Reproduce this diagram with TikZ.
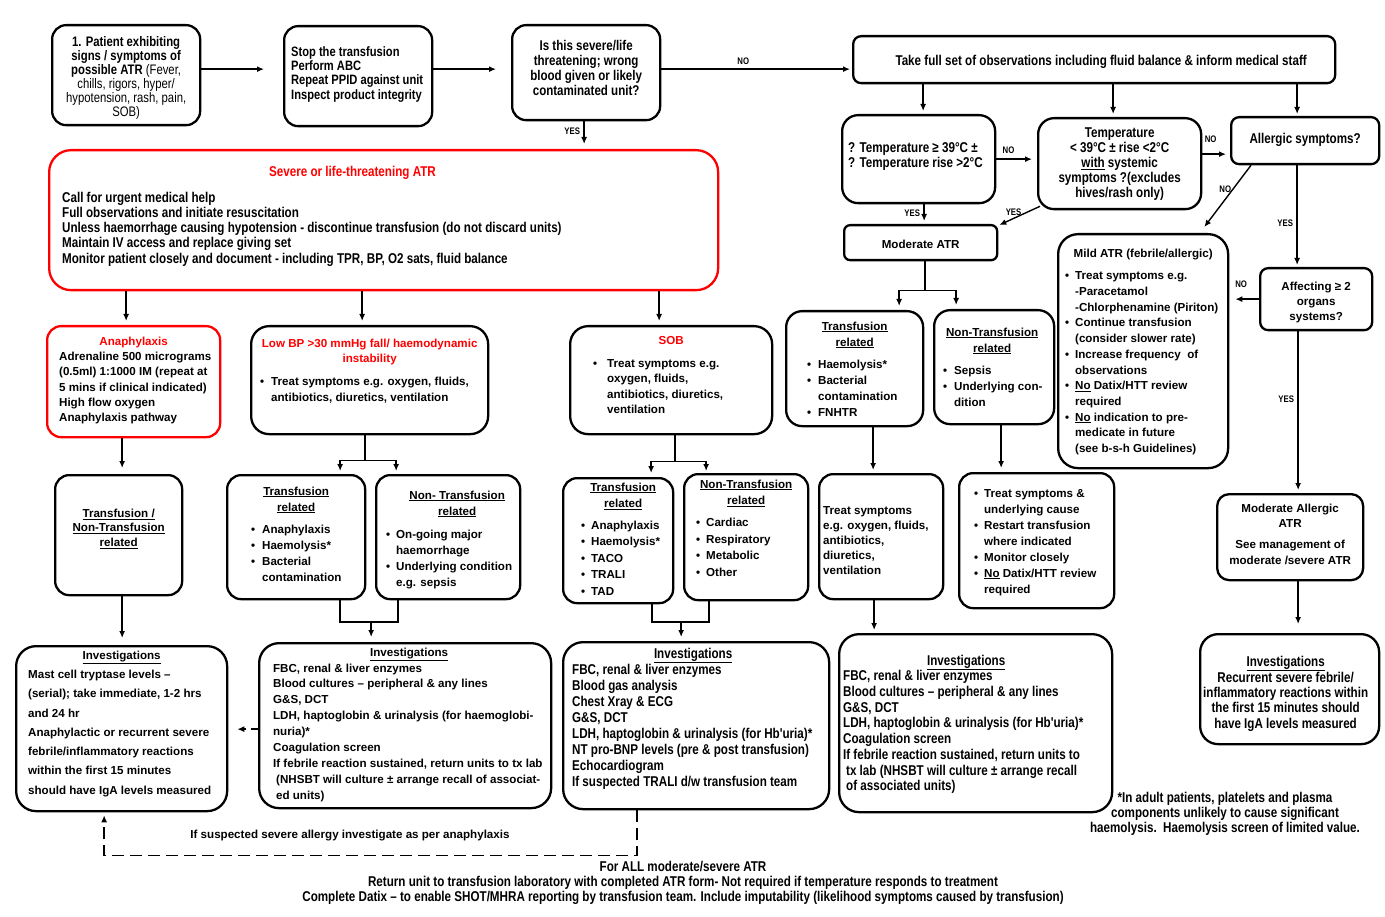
\documentclass[tikz,border=0pt]{standalone}
\usepackage{fontspec}
\setmainfont{Liberation Sans}
\newfontfamily\nf[FakeStretch=0.82]{Liberation Sans}
\usetikzlibrary{arrows.meta}
\definecolor{atrred}{RGB}{255,0,0}

\newcommand\rf[2]{\fontsize{#1}{#2}\selectfont\bfseries}
\newcommand\nrf[2]{\nf\fontsize{#1}{#2}\selectfont\bfseries}
% box text: width, height, first baseline, left pad, content
\newcommand\inbox[5]{%
  \begin{minipage}[c][#2pt][t]{#1pt}%
  \setlength\parskip{0pt}\setlength\parindent{0pt}%
  \leftskip=#4pt\rightskip=0pt plus 1fil\relax
  \null\vspace{\dimexpr#3pt-\baselineskip\relax}%
  #5%
  \end{minipage}}
\newcommand\ctr[1]{{\centering #1\par}}
\newcommand\ctrL[2]{{\centering\leftskip=#1pt plus 1fil\relax #2\par}}
\newcommand\ctrR[2]{{\centering\rightskip=#1pt plus 1fil\relax #2\par}}
\newcommand\bul[1]{\par\noindent\hangindent=#1pt\hangafter=1\makebox[#1pt][l]{\textbullet}\ignorespaces}

\tikzset{
  rbox/.style={draw, line width=2.3pt, rounded corners=14pt, inner sep=0pt, anchor=north west},
  redbox/.style={rbox, draw=atrred},
  arr/.style={line width=1.4pt, -{Latex[length=7pt,width=6pt]}},
  conn/.style={line width=1.4pt},
  lbl/.style={font={\nrf{9.5}{10}}, inner sep=1.5pt},
}

\begin{document}
\begin{tikzpicture}[x=1pt, y=-1pt]
\useasboundingbox (0,0) rectangle (1385,917);

% top row
\node[rbox, font={\nrf{13.8}{14}}] (b1) at (51,24)
  {\inbox{148}{100}{21}{0}{\ctr{1. Patient exhibiting\\ signs / symptoms of\\ possible ATR {\mdseries (Fever,\\ chills, rigors, hyper/\\ hypotension, rash, pain,\\ SOB)}}}};
\node[rbox, font={\nrf{13.6}{14.3}}] (b2) at (283,25)
  {\inbox{148}{100}{30}{7}{Stop the transfusion\\ Perform ABC\\ Repeat PPID against unit\\ Inspect product integrity}};
\node[rbox, font={\nrf{14.1}{15}}] (b3) at (511,24)
  {\inbox{148}{95}{25}{0}{\ctr{Is this severe/life\\ threatening; wrong\\ blood given or likely\\ contaminated unit?}}};
\node[rbox, rounded corners=8pt, font={\nrf{14.2}{15}}] (b4) at (852,35)
  {\inbox{482}{47}{29}{0}{\ctrL{14}{Take full set of observations including fluid balance \& inform medical staff}}};

% severe branch
\node[redbox, rounded corners=22pt, font={\nrf{14.2}{15.25}}] (severe) at (48,149)
  {\inbox{669}{140}{26}{13}{{\leavevmode\color{atrred}\hspace*{207pt}Severe or life-threatening ATR\par}\vspace{10.75pt}%
  Call for urgent medical help\\ Full observations and initiate resuscitation\\ Unless haemorrhage causing hypotension - discontinue transfusion (do not discard units)\\ Maintain IV access and replace giving set\\ Monitor patient closely and document - including TPR, BP, O2 sats, fluid balance}};
\node[redbox, font={\rf{11.6}{15.3}}] (anaph) at (46,325)
  {\inbox{173}{111}{19}{12}{\ctr{\leavevmode\color{atrred}Anaphylaxis}Adrenaline 500 micrograms\\ (0.5ml) 1:1000 IM (repeat at\\ 5 mins if clinical indicated)\\ High flow oxygen\\ Anaphylaxis pathway}};
\node[rbox, rounded corners=18pt, font={\rf{11.6}{15.5}}] (lowbp) at (250,325)
  {\inbox{237}{108}{21}{9}{\ctr{\leavevmode\color{atrred}Low BP >30 mmHg fall/ haemodynamic\\ instability}\vspace{7.5pt}\bul{11}Treat symptoms e.g. oxygen, fluids,\\ antibiotics, diuretics, ventilation}};
\node[rbox, rounded corners=18pt, font={\rf{11.6}{15.5}}] (sob) at (569,325)
  {\inbox{202}{108}{18}{23}{\ctr{\leavevmode\color{atrred}SOB}\vspace{7.5pt}\bul{14}Treat symptoms e.g.\\ oxygen, fluids,\\ antibiotics, diuretics,\\ ventilation}};

\node[rbox, font={\rf{11.6}{14.8}}] (tnl) at (54,474)
  {\inbox{127}{120}{42}{0}{\ctr{\underline{Transfusion /}\\ \underline{Non-Transfusion}\\ \underline{related}}}};
\node[rbox, font={\rf{11.6}{16}}] (lbT) at (226,474)
  {\inbox{138}{124}{20}{24}{\ctr{\underline{Transfusion}\\ \underline{related}}\vspace{6pt}\bul{11}Anaphylaxis\bul{11}Haemolysis*\bul{11}Bacterial\\ contamination}};
\node[rbox, font={\rf{11.6}{16}}] (lbN) at (375,474)
  {\inbox{144}{124}{24}{10}{\ctrL{18}{\underline{Non- Transfusion}\\ \underline{related}}\vspace{7pt}\bul{10}On-going major\\ haemorrhage\bul{10}Underlying condition\\ e.g. sepsis}};
\node[rbox, font={\rf{11.6}{16.5}}] (sbT) at (562,477)
  {\inbox{110}{125}{13}{18}{\ctrL{10}{\underline{Transfusion}\\ \underline{related}}\vspace{5pt}\bul{10}Anaphylaxis\bul{10}Haemolysis*\bul{10}TACO\bul{10}TRALI\bul{10}TAD}};
\node[rbox, font={\rf{11.6}{16.8}}] (sbN) at (683,473)
  {\inbox{124}{126}{14}{12}{\ctr{\underline{Non-Transfusion}\\ \underline{related}}\vspace{4.5pt}\bul{10}Cardiac\bul{10}Respiratory\bul{10}Metabolic\bul{10}Other}};

% moderate / mild branch
\node[rbox, rounded corners=16pt, font={\nrf{14.2}{15.2}}] (tmp1) at (841,114)
  {\inbox{153}{88}{37}{6}{? Temperature ≥ 39°C ±\\ ? Temperature rise >2°C}};
\node[rbox, rounded corners=16pt, font={\nrf{14.2}{15.2}}] (tmp2) at (1037,117)
  {\inbox{163}{91}{19}{0}{\ctr{Temperature\\ < 39°C ± rise <2°C\\ \underline{with} systemic\\ symptoms ?(excludes\\ hives/rash only)}}};
\node[rbox, rounded corners=8pt, font={\nrf{14.2}{15}}] (allg) at (1230,116)
  {\inbox{148}{47}{26}{0}{\ctr{Allergic symptoms?}}};
\node[rbox, rounded corners=6pt, font={\rf{11.6}{14}}] (modATR) at (843,224)
  {\inbox{153}{35}{23}{0}{\ctr{Moderate ATR}}};
\node[rbox, rounded corners=16pt, font={\rf{11.6}{16}}] (mdT) at (785,310)
  {\inbox{137}{115}{19}{21}{\ctr{\underline{Transfusion}\\ \underline{related}}\vspace{6pt}\bul{11}Haemolysis*\bul{11}Bacterial\\ contamination\bul{11}FNHTR}};
\node[rbox, rounded corners=16pt, font={\rf{11.6}{16}}] (mdN) at (933,309)
  {\inbox{120}{114}{26}{9}{\ctrR{4}{\underline{Non-Transfusion}\\ \underline{related}}\vspace{6pt}\bul{11}Sepsis\bul{11}Underlying con-\\ dition}};
\node[rbox, rounded corners=20pt, font={\rf{11.6}{15.7}}] (mild) at (1057,233)
  {\inbox{170}{234}{23}{7}{\ctr{Mild ATR (febrile/allergic)}\vspace{7pt}%
  \bul{10}Treat symptoms e.g.\\ -Paracetamol\\ -Chlorphenamine (Piriton)%
  \bul{10}Continue transfusion\\ (consider slower rate)%
  \bul{10}Increase frequency\ \ of\\ observations%
  \bul{10}\underline{No} Datix/HTT review\\ required%
  \bul{10}\underline{No} indication to pre-\\ medicate in future\\ (see b-s-h Guidelines)}};
\node[rbox, rounded corners=8pt, font={\rf{11.6}{15}}] (aff) at (1259,267)
  {\inbox{112}{62}{22}{0}{\ctr{Affecting ≥ 2\\ organs\\ systems?}}};
\node[rbox, rounded corners=12pt, font={\rf{11.6}{15.5}}] (modAl) at (1216,493)
  {\inbox{146}{86}{18}{0}{\ctr{Moderate Allergic\\ ATR}\vspace{5.5pt}\ctr{See management of\\ moderate /severe ATR}}};
\node[rbox, font={\rf{11.6}{15.2}}] (trt) at (818,473)
  {\inbox{124}{125}{40}{4}{Treat symptoms\\ e.g. oxygen, fluids,\\ antibiotics,\\ diuretics,\\ ventilation}};
\node[rbox, font={\rf{11.6}{16}}] (trt2) at (958,472)
  {\inbox{155}{135}{24}{15}{\bul{10}Treat symptoms \&\\ underlying cause\bul{10}Restart transfusion\\ where indicated\bul{10}Monitor closely\bul{10}\underline{No} Datix/HTT review\\ required}};

% investigations
\node[rbox, rounded corners=20pt, font={\rf{11.6}{19.3}}] (invL) at (15,645)
  {\inbox{211}{165}{13}{12}{\ctr{\underline{Investigations}}Mast cell tryptase levels –\\ (serial); take immediate, 1-2 hrs\\ and 24 hr\\ Anaphylactic or recurrent severe\\ febrile/inflammatory reactions\\ within the first 15 minutes\\ should have IgA levels measured}};
\node[rbox, rounded corners=20pt, font={\rf{11.6}{15.9}}] (invB) at (258,642)
  {\inbox{292}{165}{13}{14}{\ctrL{8}{\underline{Investigations}}FBC, renal \& liver enzymes\\ Blood cultures – peripheral \& any lines\\ G\&S, DCT\\ LDH, haptoglobin \& urinalysis (for haemoglobi-\\ nuria)*\\ Coagulation screen\\ If febrile reaction sustained, return units to tx lab\\ \hspace*{3pt}(NHSBT will culture ± arrange recall of associat-\\ \hspace*{3pt}ed units)}};
\node[rbox, rounded corners=20pt, font={\nrf{14.2}{16}}] (invS) at (562,641)
  {\inbox{266}{167}{16}{9}{\ctrR{6}{\underline{Investigations}}FBC, renal \& liver enzymes\\ Blood gas analysis\\ Chest Xray \& ECG\\ G\&S, DCT\\ LDH, haptoglobin \& urinalysis (for Hb'uria)*\\ NT pro-BNP levels (pre \& post transfusion)\\ Echocardiogram\\ If suspected TRALI d/w transfusion team}};
\node[rbox, rounded corners=20pt, font={\nrf{14.2}{15.7}}] (invM) at (838,633)
  {\inbox{273}{178}{31}{4}{\ctrR{19}{\underline{Investigations}}FBC, renal \& liver enzymes\\ Blood cultures – peripheral \& any lines\\ G\&S, DCT\\ LDH, haptoglobin \& urinalysis (for Hb'uria)*\\ Coagulation screen\\ If febrile reaction sustained, return units to\\ \hspace*{3pt}tx lab (NHSBT will culture ± arrange recall\\ \hspace*{3pt}of associated units)}};
\node[rbox, rounded corners=18pt, font={\nrf{14.2}{15.2}}] (invR) at (1199,633)
  {\inbox{179}{110}{32}{0}{\ctrR{8}{\underline{Investigations}\\ Recurrent severe febrile/\\ inflammatory reactions within\\ the first 15 minutes should\\ have IgA levels measured}}};

% loose text
\node[font={\nrf{14.2}{15}}, align=center] (fnote) at (1225,814)
  {*In adult patients, platelets and plasma\\ components unlikely to cause significant\\ haemolysis.\ \ Haemolysis screen of limited value.};
\node[font={\rf{11.6}{14}}] (anote) at (350,836) {If suspected severe allergy investigate as per anaphylaxis};
\node[font={\nrf{14.2}{15.3}}, align=center] (fall) at (683,883)
  {For ALL moderate/severe ATR\\ Return unit to transfusion laboratory with completed ATR form- Not required if temperature responds to treatment\\ Complete Datix – to enable SHOT/MHRA reporting by transfusion team. Include imputability (likelihood symptoms caused by transfusion)};

% connectors, top row
\draw[arr, shorten >=19pt] ([yshift=6pt]b1.east) -- ([yshift=6pt]b1.east -| b2.west);
\draw[arr, shorten >=15pt] ([yshift=7pt]b2.east) -- ([yshift=7pt]b2.east -| b3.west);
\draw[arr, shorten >=2pt] ([yshift=3.5pt]b3.east) -- node[lbl, above=2pt, pos=0.43] {NO} ([yshift=3.5pt]b3.east -| b4.west);
\draw[arr, shorten >=5pt] ([xshift=-2pt]b3.south) -- node[lbl, left=2pt, pos=0.35] {YES} ([xshift=-2pt]b3.south |- severe.north);

% severe branch
\draw[arr, shorten >=4pt] ([xshift=-7.5pt]anaph.north |- severe.south) -- ([xshift=-7.5pt]anaph.north);
\draw[arr, shorten >=4pt] ([xshift=-7.5pt]lowbp.north |- severe.south) -- ([xshift=-7.5pt]lowbp.north);
\draw[arr, shorten >=4pt] ([xshift=-12pt]sob.north |- severe.south) -- ([xshift=-12pt]sob.north);
\draw[arr, shorten >=6pt] ([xshift=-11.5pt]anaph.south) -- ([xshift=-11.5pt]anaph.south |- tnl.north);
\draw[arr, shorten >=7pt] ([xshift=3.5pt]tnl.south) -- ([xshift=3.5pt]tnl.south |- invL.north);

\coordinate (lbs) at ([xshift=-4.5pt, yshift=-25pt]lowbp.south);
\draw[conn] ([xshift=-4.5pt]lowbp.south) -- (lbs);
\draw[arr, shorten >=3pt] (lbs) -| ([xshift=44pt]lbT.north);
\draw[arr, shorten >=3pt] (lbs) -| ([xshift=-52pt]lbN.north);
\coordinate (lbm) at ([xshift=-34pt, yshift=20pt]invB.north);
\draw[conn] ([xshift=44pt]lbT.south) |- (lbm) -| ([xshift=-50pt]lbN.south);
\draw[arr, shorten >=5pt] (lbm) -- ([xshift=-34pt]invB.north);

\coordinate (sbs) at ([xshift=4pt, yshift=-26pt]sob.south);
\draw[conn] ([xshift=4pt]sob.south) -- (sbs);
\draw[arr, shorten >=4pt] (sbs) -| ([xshift=33pt]sbT.north);
\draw[arr, shorten >=2pt] (sbs) -| ([xshift=-40pt]sbN.north);
\coordinate (sbm) at ([xshift=-15pt, yshift=19pt]invS.north);
\draw[conn] ([xshift=34pt]sbT.south) |- (sbm) -| ([xshift=-37pt]sbN.south);
\draw[arr, shorten >=4pt] (sbm) -- ([xshift=-15pt]invS.north);

% moderate / mild branch
\draw[arr, shorten >=3pt] ([xshift=4.5pt]tmp1.north |- b4.south) -- ([xshift=4.5pt]tmp1.north);
\draw[arr, shorten >=3pt] ([xshift=-6.5pt]tmp2.north |- b4.south) -- ([xshift=-6.5pt]tmp2.north);
\draw[arr, shorten >=2pt] ([xshift=-8pt]allg.north |- b4.south) -- ([xshift=-8pt]allg.north);
\draw[arr, shorten >=5pt] (tmp1.east) -- node[lbl, above=3pt, pos=0.3] {NO} (tmp1.east -| tmp2.west);
\draw[arr, shorten >=4pt] ([yshift=9.5pt]tmp2.east) -- node[lbl, above=9pt, pos=0.3] {NO} ([yshift=9.5pt]tmp2.east -| allg.west);
\draw[arr, shorten >=3pt] ([xshift=5.5pt]tmp1.south) -- node[lbl, left=2pt, pos=0.45] {YES} ([xshift=5.5pt]tmp1.south |- modATR.north);
\draw[arr] ([xshift=3pt, yshift=4pt]tmp2.south west) -- node[lbl, above=1pt, pos=0.65] {YES} ([xshift=1pt, yshift=-1pt]modATR.north east);
\draw[arr] ([xshift=21pt]allg.south west) -- node[lbl, left=0pt, pos=0.38] {NO} ([xshift=-25pt, yshift=6pt]mild.north east);
\draw[arr, shorten >=2pt] ([xshift=-8pt]allg.south) -- node[lbl, left=2pt, pos=0.57] {YES} ([xshift=-8pt]allg.south |- aff.north);
\draw[arr, shorten >=6pt] (aff.west) -- node[lbl, above=9pt, pos=0.6] {NO} (aff.west -| mild.east);
\draw[arr, shorten >=3pt] ([xshift=-18pt]aff.south) -- node[lbl, left=2pt, pos=0.42] {YES} ([xshift=-18pt]aff.south |- modAl.north);
\draw[arr, shorten >=9pt] ([xshift=8pt]modAl.south) -- ([xshift=8pt]modAl.south |- invR.north);

\coordinate (mas) at ([xshift=4.5pt, yshift=-29pt]modATR.south);
\draw[conn] ([xshift=4.5pt]modATR.south) -- (mas);
\draw[arr, shorten >=4pt] (mas) -| ([xshift=44.5pt]mdT.north);
\draw[arr, shorten >=4pt] (mas) -| ([xshift=-38pt]mdN.north);
\draw[arr, shorten >=3pt] ([xshift=18.5pt]mdT.south) -- ([xshift=18.5pt]mdT.south |- trt.north);
\draw[arr, shorten >=4pt] ([xshift=7pt]mdN.south) -- ([xshift=7pt]mdN.south |- trt2.north);
\draw[arr, shorten >=3pt] ([xshift=-7pt]trt.south) -- ([xshift=-7pt]trt.south |- invM.north);

% dashed links back to the anaphylaxis investigations
\draw[arr, dash pattern=on 7pt off 5pt, shorten >=9pt] ([yshift=-3.5pt]invB.west) -- ([yshift=-3.5pt]invB.west -| invL.east);
\coordinate (dsh) at ([xshift=-17.5pt, yshift=-43pt]invL.south);
\draw[arr, dash pattern=on 12pt off 6pt, shorten >=3pt] ([xshift=-59pt]invS.south) |- (dsh) -- ([xshift=-17.5pt]invL.south);
\end{tikzpicture}
\end{document}
